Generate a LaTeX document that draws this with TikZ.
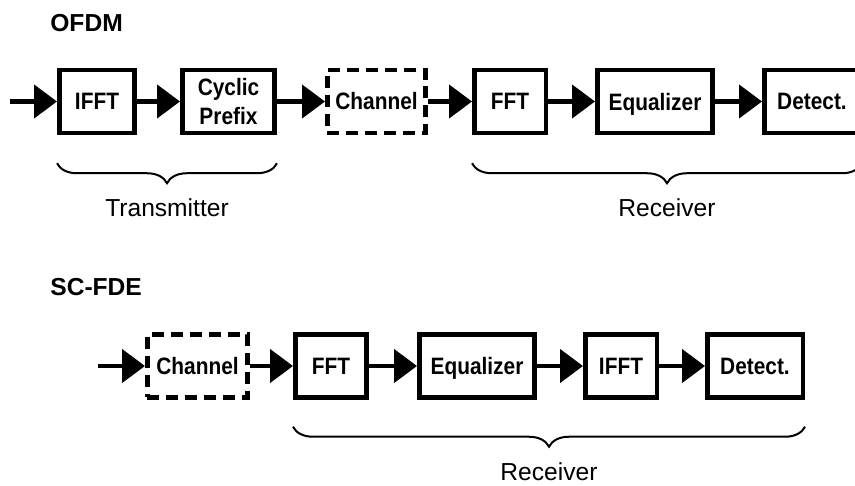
\documentclass[tikz,border=0pt]{standalone}
\usepackage{fontspec}
\setmainfont{Liberation Sans}
\newfontfamily\blkfont[FakeStretch=0.88]{Liberation Sans}
\usetikzlibrary{arrows.meta, positioning, calc, decorations.pathreplacing}

\tikzset{
  blk/.style={draw, line width=0.09cm, minimum height=1.26cm, inner sep=0pt, align=center,
    font=\blkfont\bfseries\fontsize{13.5}{17}\selectfont},
  chan/.style={blk, dash pattern=on 0.24cm off 0.14cm},
  flow/.style={line width=0.09cm, -{Triangle[length=0.46cm, width=0.66cm]}},
  brc/.style={decorate, decoration={brace, mirror, amplitude=0.4cm}, line width=0.04cm},
  lbl/.style={font=\fontsize{14}{16}\selectfont},
  ttl/.style={font=\bfseries\fontsize{14}{16}\selectfont, inner sep=0pt, anchor=west}
}

\begin{document}
\begin{tikzpicture}[x=0.02cm, y=-0.02cm]
  \useasboundingbox (0,0) rectangle (855,486);

  \node[ttl] (ofdm) at (50,23.5) {OFDM};
  \coordinate (inA) at (10,101.5);
  \node[blk, minimum width=1.51cm] (ifftA) at (97,101.5) {IFFT};
  \node[blk, minimum width=1.85cm] (cpA) at (228.5,101.5) {Cyclic\\Prefix};
  \node[chan, minimum width=1.97cm] (chanA) at (376.5,101.5) {Channel};
  \node[blk, minimum width=1.43cm] (fftA) at (510,101.5) {FFT};
  \node[blk, minimum width=2.31cm, text depth=0pt] (eqA) at (655,101.5) {Equalizer};
  \node[blk, minimum width=1.91cm] (detA) at (812,101.5) {Detect.};

  \draw[flow] (inA) -- (ifftA);
  \draw[flow] (ifftA) -- (cpA);
  \draw[flow] (cpA) -- (chanA);
  \draw[flow] (chanA) -- (fftA);
  \draw[flow] (fftA) -- (eqA);
  \draw[flow] (eqA) -- (detA);

  \draw[brc] ([yshift=-0.56cm]ifftA.south west) -- ([yshift=-0.56cm]cpA.south east)
    node[lbl, midway, yshift=-0.88cm] (txA) {Transmitter};
  \draw[brc] ([yshift=-0.56cm]fftA.south west) -- ([yshift=-0.56cm]detA.south east)
    node[lbl, midway, yshift=-0.88cm] (rxA) {Receiver};

  \node[ttl] (scfde) at (50,287) {SC-FDE};
  \coordinate (inB) at (98,366);
  \node[chan, minimum width=2.01cm] (chanB) at (197.5,366) {Channel};
  \node[blk, minimum width=1.43cm] (fftB) at (331,366) {FFT};
  \node[blk, minimum width=2.31cm, text depth=0pt] (eqB) at (477,366) {Equalizer};
  \node[blk, minimum width=1.43cm] (ifftB) at (621,366) {IFFT};
  \node[blk, minimum width=1.91cm] (detB) at (755,366) {Detect.};

  \draw[flow] (inB) -- (chanB);
  \draw[flow] (chanB) -- (fftB);
  \draw[flow] (fftB) -- (eqB);
  \draw[flow] (eqB) -- (ifftB);
  \draw[flow] (ifftB) -- (detB);

  \draw[brc] ([yshift=-0.54cm]fftB.south west) -- ([yshift=-0.54cm]detB.south east)
    node[lbl, midway, yshift=-0.9cm] (rxB) {Receiver};
\end{tikzpicture}
\end{document}
